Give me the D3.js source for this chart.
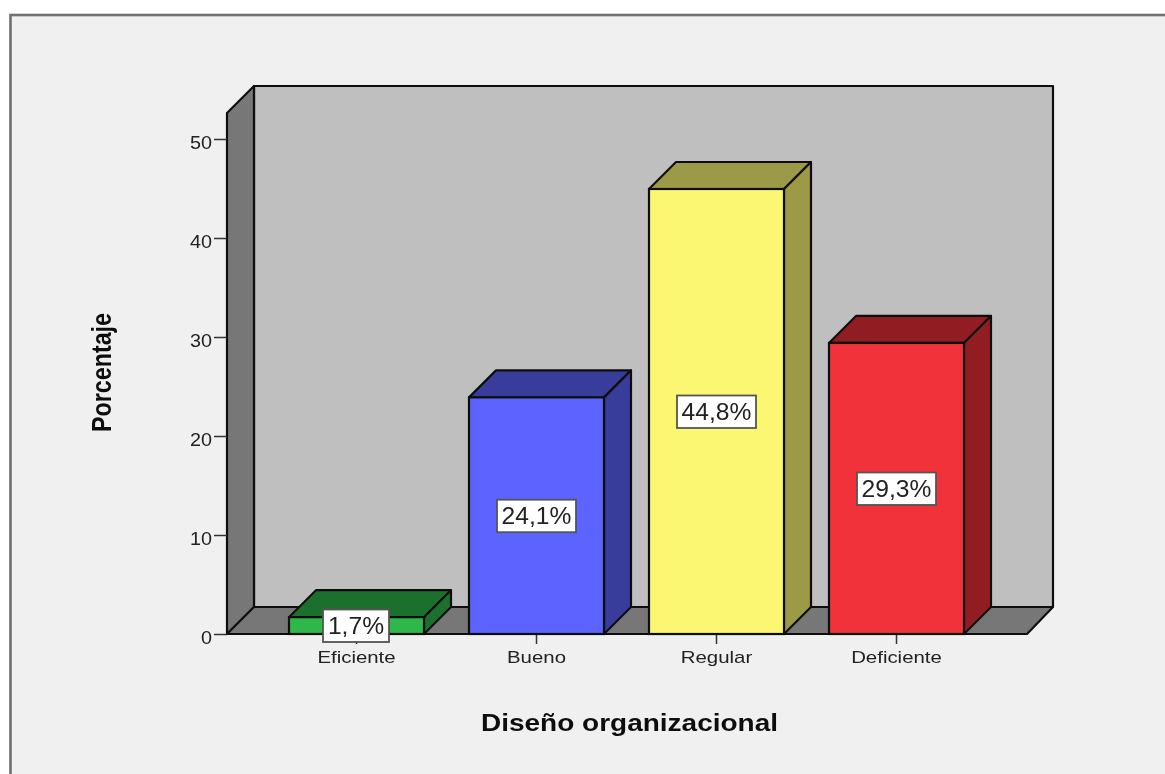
<!DOCTYPE html>
<html><head><meta charset="utf-8">
<style>html,body{margin:0;padding:0;background:#fff}svg{display:block}</style>
<script src="https://cdn.jsdelivr.net/npm/d3@7/dist/d3.min.js"></script>
</head><body><svg id="c" width="1165" height="774"></svg>
<script>
const categories = ["Eficiente","Bueno","Regular","Deficiente"];
const barHeights = [1.7,23.9,44.95,29.4];
const valueLabels = ["1,7%","24,1%","44,8%","29,3%"];
const frontColors = ["#2eb84a","#5b64ff","#fbf772","#f2323a"];
const sideColors = ["#1f6f2e","#383c9c","#9c9a46","#911f23"];
const yTicks = [0,10,20,30,40,50];
const yTitle = "Porcentaje";
const xTitle = "Diseño organizacional";

const W=1165,H=774,depth=27,stroke="#111",font="'Liberation Sans',Arial,sans-serif";
const svg=d3.select("#c");
const defs=svg.append("defs");
defs.append("filter").attr("id","soft").attr("x","-5%").attr("y","-5%").attr("width","110%").attr("height","110%")
  .append("feGaussianBlur").attr("stdDeviation",0.55);
svg.append("rect").attr("x",0).attr("y",0).attr("width",W).attr("height",H).attr("fill","#fff");
const g=svg.append("g").attr("filter","url(#soft)");
g.append("rect").attr("x",10.5).attr("y",15).attr("width",W+20).attr("height",H+20)
  .attr("fill","#f0f0f0").attr("stroke","#6f6f6f").attr("stroke-width",2.6);

const stretch=(sel,k)=>sel.each(function(){
  const n=d3.select(this);
  n.attr("textLength",this.getComputedTextLength()*k).attr("lengthAdjust","spacingAndGlyphs");
});
const y=d3.scaleLinear().domain([0,50]).range([634,139]);
const x=d3.scaleBand().domain(categories).range([266.5,986.5]).paddingInner(0.25).paddingOuter(0.125);
const pl=227,pr=1027,top0=86,sw0=2.2;
const poly=(pts,fill,sw=sw0)=>g.append("polygon").attr("points",pts.map(p=>p.join(",")).join(" "))
  .attr("fill",fill).attr("stroke",stroke).attr("stroke-width",sw).attr("stroke-linejoin","round");
// back wall, left wall, floor
poly([[pl+depth,top0],[pr+depth-1,top0],[pr+depth-1,y(0)-depth],[pl+depth,y(0)-depth]],"#bfbfbf");
poly([[pl,top0+depth],[pl+depth,top0],[pl+depth,y(0)-depth],[pl,y(0)]],"#777777");
poly([[pl,y(0)],[pl+depth,y(0)-depth],[pr+depth-1,y(0)-depth],[pr,y(0)]],"#777777");

// y axis
const yAxis=d3.axisLeft(y).tickValues(yTicks).tickSize(13).tickPadding(2);
const ya=g.append("g").attr("transform",`translate(${pl},0)`).call(yAxis);
ya.select(".domain").remove();
ya.selectAll("line").attr("stroke","#333").attr("stroke-width",1.5);
ya.selectAll("text").attr("font-family",font).attr("font-size",18).attr("fill","#222").attr("dy","0.5em").call(stretch,1.1);

// x axis
const xAxis=d3.axisBottom(x).tickSize(10).tickPadding(7);
const xa=g.append("g").attr("transform",`translate(0,${y(0)})`).call(xAxis);
xa.select(".domain").remove();
xa.selectAll("line").attr("stroke","#333").attr("stroke-width",1.5);
xa.selectAll("text").attr("font-family",font).attr("font-size",17).attr("fill","#222").call(stretch,1.2);

// bars
categories.forEach((c,i)=>{
  const x0=x(c),x1=x0+x.bandwidth(),t=y(barHeights[i]),b=y(0);
  poly([[x0,t],[x0+depth,t-depth],[x1+depth,t-depth],[x1,t]],sideColors[i]);
  poly([[x1,t],[x1+depth,t-depth],[x1+depth,b-depth],[x1,b]],sideColors[i]);
  g.append("rect").attr("x",x0).attr("y",t).attr("width",x.bandwidth()).attr("height",b-t)
    .attr("fill",frontColors[i]).attr("stroke",stroke).attr("stroke-width",sw0);
});

// value labels
const boxW=[66,79,79,79];
categories.forEach((c,i)=>{
  const cx=x(c)+x.bandwidth()/2-(i==0?0.5:0);
  const cy=Math.min((y(barHeights[i])+y(0))/2, 625.5);
  g.append("rect").attr("x",cx-boxW[i]/2).attr("y",cy-16).attr("width",boxW[i]).attr("height",32.5)
    .attr("fill","#fff").attr("stroke","#555").attr("stroke-width",1.8);
  g.append("text").attr("x",cx).attr("y",cy+8.5).attr("text-anchor","middle")
    .attr("font-family",font).attr("font-size",23).attr("fill","#222").text(valueLabels[i]).call(stretch,1.07);
});

// titles
g.append("text").attr("transform","translate(110.5,372.5) rotate(-90)").attr("text-anchor","middle")
  .attr("font-family",font).attr("font-weight","bold").attr("font-size",27)
  .attr("textLength",119).attr("lengthAdjust","spacingAndGlyphs").attr("fill","#111").text(yTitle);
g.append("text").attr("x",629.5).attr("y",731).attr("text-anchor","middle")
  .attr("font-family",font).attr("font-weight","bold").attr("font-size",23)
  .attr("textLength",297).attr("lengthAdjust","spacingAndGlyphs").attr("fill","#111").text(xTitle);
</script></body></html>
